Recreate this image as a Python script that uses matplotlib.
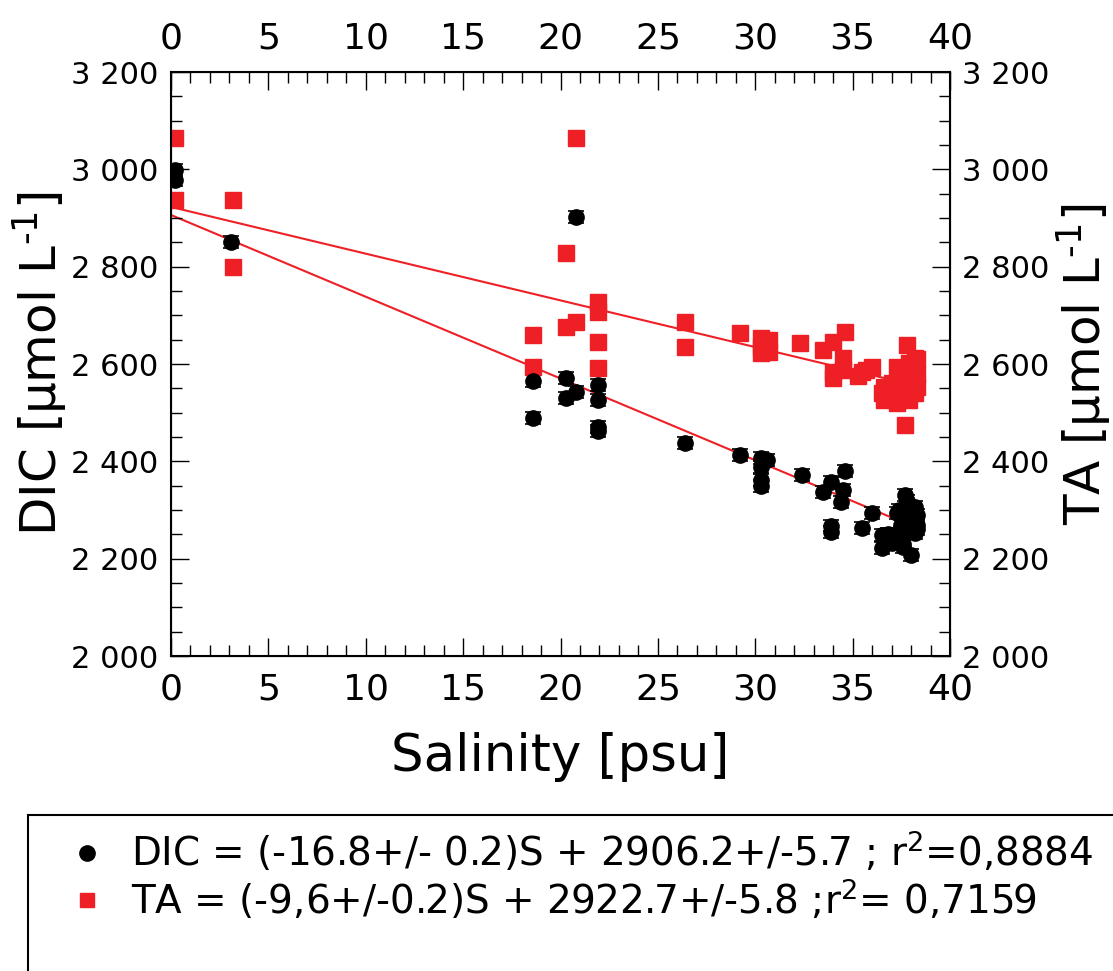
import matplotlib
matplotlib.use("Agg")
import matplotlib.pyplot as plt
from matplotlib.ticker import MultipleLocator, FuncFormatter
from matplotlib.lines import Line2D
from matplotlib.patches import Rectangle
import numpy as np

# DIC samples (salinity, umol/L)
dic_s = [0.2, 0.2, 3.1, 18.6, 18.6, 20.3, 20.3, 20.8, 20.8, 21.9, 21.9, 21.9, 21.9,
         26.4, 29.2, 30.3, 30.3, 30.3, 30.3, 30.6, 32.4, 33.5, 33.9, 34.6, 34.5, 34.4,
         33.9, 33.9, 35.5, 36.0, 36.5, 36.5,
         36.8, 37.2, 37.3, 37.5, 37.6, 37.7, 37.8, 38.0, 38.0, 38.1, 38.2, 38.2, 38.3,
         38.3, 37.4, 37.6, 37.0, 36.9, 38.3, 38.0, 37.5]
dic_v = [2998, 2978, 2850, 2565, 2489, 2571, 2530, 2902, 2542, 2557, 2526, 2470, 2462,
         2438, 2413, 2407, 2388, 2362, 2350, 2403, 2372, 2337, 2357, 2380, 2341, 2316,
         2268, 2255, 2263, 2294, 2248, 2222,
         2250, 2240, 2294, 2253, 2231, 2331, 2318, 2208, 2290, 2279, 2307, 2252, 2270,
         2260, 2300, 2224, 2232, 2238, 2290, 2260, 2270]

# TA samples
ta_s = [0.2, 0.2, 3.2, 3.2, 18.6, 18.6, 20.3, 20.3, 20.8, 20.8, 21.9, 21.9, 21.9, 21.9,
        26.4, 26.4, 29.2, 30.3, 30.3, 30.3, 30.7, 30.7, 32.3, 33.5, 34.0, 34.6, 34.0,
        34.0, 34.5, 34.5, 35.5, 35.3, 36.0,
        37.8, 38.2, 38.2, 38.2, 37.3, 36.6, 36.6, 37.3, 37.6, 35.7, 37.9, 37.9, 38.3,
        36.5, 36.9, 37.7, 37.0, 37.5, 38.0, 38.3, 38.3, 37.2, 37.9]
ta_v = [3064, 2937, 2937, 2800, 2660, 2594, 2828, 2676, 3064, 2686, 2727, 2707, 2645, 2592,
        2686, 2635, 2664, 2653, 2635, 2622, 2650, 2625, 2643, 2629, 2645, 2666, 2584,
        2571, 2612, 2588, 2584, 2576, 2594,
        2639, 2612, 2573, 2540, 2594, 2553, 2526, 2520, 2561, 2588, 2526, 2602, 2553,
        2540, 2530, 2475, 2560, 2580, 2590, 2610, 2580, 2545, 2545]

# linear fits: slope, intercept
dic_fit = [-16.8, 2906.2]
ta_fit = [-9.6, 2922.7]
fit_range = [0.0, 38.3]

dic_err = 12
ta_err = 8

red = '#ee2026'

fig = plt.figure(figsize=(11.13, 9.71), dpi=100)
ax = fig.add_axes([171/1113, 1-656/971, (950-171)/1113, (656-72)/971])

xf = np.array(fit_range)
ax.plot(xf, dic_fit[0]*xf + dic_fit[1], color=red, lw=1.5, zorder=1)
ax.plot(xf, ta_fit[0]*xf + ta_fit[1], color=red, lw=1.5, zorder=1)

ax.errorbar(ta_s, ta_v, yerr=ta_err, fmt='s', color=red, ms=11, mec=red,
            ecolor='k', elinewidth=1, capsize=5.5, capthick=1.2, zorder=3)
ax.errorbar(dic_s, dic_v, yerr=dic_err, fmt='o', color='k', ms=11,
            ecolor='k', elinewidth=1, capsize=5.5, capthick=1.2, zorder=3)

ax.set_xlim(0, 40)
ax.set_ylim(2000, 3200)

fmt = FuncFormatter(lambda v, p: f"{int(v):,}".replace(",", " "))
ax.xaxis.set_major_locator(MultipleLocator(5))
ax.xaxis.set_minor_locator(MultipleLocator(1))
ax.yaxis.set_major_locator(MultipleLocator(200))
ax.yaxis.set_minor_locator(MultipleLocator(50))
ax.yaxis.set_major_formatter(fmt)

ax.tick_params(axis='x', which='both', direction='in', top=True, labeltop=True,
               labelsize=26, pad=12, width=1)
ax.tick_params(axis='y', which='both', direction='in', right=False, labelsize=22,
               pad=9, width=1)
ax.tick_params(which='major', length=13)
ax.tick_params(which='minor', length=8)
for sp in ax.spines.values():
    sp.set_linewidth(1.5)

ax2 = ax.twinx()
ax2.set_ylim(ax.get_ylim())
ax2.yaxis.set_major_locator(MultipleLocator(200))
ax2.yaxis.set_minor_locator(MultipleLocator(50))
ax2.yaxis.set_major_formatter(fmt)
ax2.tick_params(which='both', direction='in', labelsize=22, pad=9, width=1)
ax2.tick_params(which='major', length=13)
ax2.tick_params(which='minor', length=8)

ax.set_xlabel('Salinity [psu]', fontsize=37, labelpad=18)
ax.set_ylabel('DIC [µmol L$^{‐1}$]', fontsize=36, labelpad=1)
ax2.set_ylabel('TA [µmol L$^{‐1}$]', fontsize=36, labelpad=3)

handles = [Line2D([], [], marker='o', color='k', ls='none', ms=11),
           Line2D([], [], marker='s', color=red, ls='none', ms=10)]
labels = ['DIC = (-16.8+/- 0.2)S + 2906.2+/-5.7 ; r$^2$=0,8884',
          'TA = (-9,6+/-0.2)S + 2922.7+/-5.8 ;r$^2$= 0,7159']
fig.legend(handles, labels, loc='upper left', bbox_to_anchor=(52/1113, 1-814/971),
           frameon=False, fontsize=28, handlelength=1.0, handletextpad=0.63,
           labelspacing=0.08, borderaxespad=0)
fig.add_artist(Rectangle((28/1113, -0.05), 1.0, 0.05 + 1-815/971, fill=False,
                         ec='k', lw=1.5, transform=fig.transFigure))

fig.savefig('out.png', dpi=100)
